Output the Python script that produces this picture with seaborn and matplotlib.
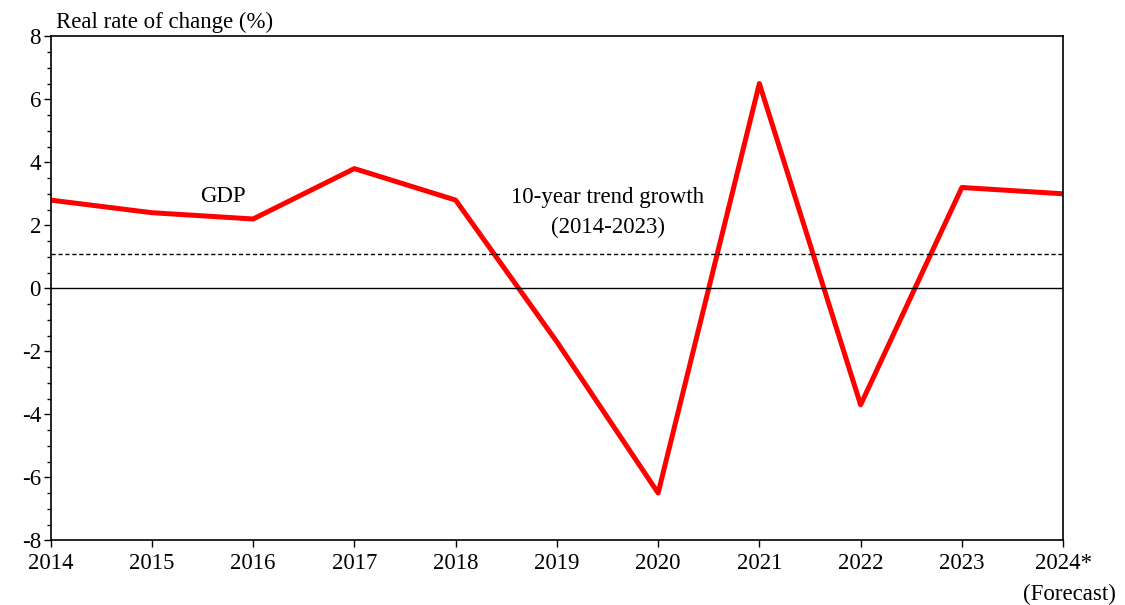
import numpy as np
import pandas as pd
import seaborn as sns
import matplotlib.pyplot as plt
from matplotlib.ticker import MultipleLocator

# data
years = [2014, 2015, 2016, 2017, 2018, 2019, 2020, 2021, 2022, 2023, 2024]
gdp = [2.8, 2.4, 2.2, 3.8, 2.8, -1.7, -6.5, 6.5, -3.7, 3.2, 3.0]
trend = 1.1
year_labels = ['2014', '2015', '2016', '2017', '2018', '2019', '2020', '2021', '2022', '2023', '2024*']

sns.set_style('ticks')
plt.rcParams['font.family'] = ['Liberation Serif', 'DejaVu Serif']
plt.rcParams['font.size'] = 16.5
plt.rcParams['axes.unicode_minus'] = False
plt.rcParams['text.color'] = 'black'
plt.rcParams['xtick.color'] = 'black'
plt.rcParams['ytick.color'] = 'black'

df = pd.DataFrame({'year': years, 'gdp': gdp})

fig, ax = plt.subplots(figsize=(11.25, 6.05), dpi=100)
fig.subplots_adjust(left=0.045, right=0.945, top=0.94, bottom=0.107)

sns.lineplot(data=df, x='year', y='gdp', color='#ff0000', linewidth=3.6, ax=ax)
ax.axhline(0, color='black', linewidth=1)
ax.axhline(trend, color='black', linewidth=1, linestyle=(0, (3, 2)))

ax.set_xlim(2014, 2024)
ax.set_ylim(-8, 8)
ax.set_xticks(years)
ax.set_xticklabels(year_labels)
ax.yaxis.set_major_locator(MultipleLocator(2))
ax.yaxis.set_minor_locator(MultipleLocator(0.5))
ax.tick_params(axis='both', which='major', length=5, width=1, labelsize=16.5, pad=2)
ax.tick_params(axis='y', which='minor', length=3, width=1, color='black')
ax.tick_params(axis='x', pad=4)
for s in ax.spines.values():
    s.set_visible(True)
    s.set_linewidth(1.2)
    s.set_color('black')

ax.set_xlabel('')
ax.set_ylabel('')
ax.text(0.005, 1.006, 'Real rate of change (%)', transform=ax.transAxes,
        ha='left', va='bottom', fontsize=16.5)
ax.text(2024.52, -9.4, '(Forecast)', ha='right', va='top', fontsize=16.5, clip_on=False)

ax.text(2015.7, 2.73, 'GDP', ha='center', va='baseline', fontsize=16.5)
ax.text(2019.5, 3.2, '10-year trend growth\n(2014-2023)', ha='center', va='top',
        fontsize=16.5, linespacing=1.5)

fig.savefig('out.png', dpi=100)
